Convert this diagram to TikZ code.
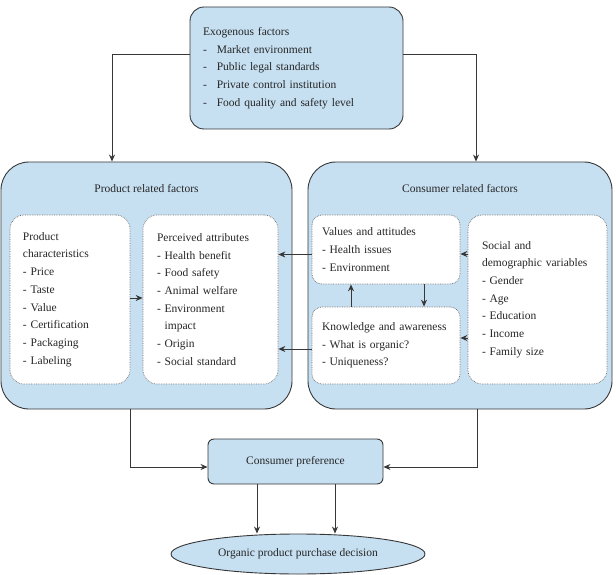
\documentclass[tikz,border=0pt]{standalone}
\usepackage{fontspec}
\setmainfont{Liberation Serif}
\usetikzlibrary{shapes,arrows.meta,positioning,calc}
\definecolor{boxblue}{RGB}{198,224,242}
\definecolor{linegray}{RGB}{55,55,55}

\begin{document}
\begin{tikzpicture}[x=1pt, y=-1pt,
    font=\fontsize{11.5}{17.7}\selectfont,
    outer/.style={rectangle, draw=linegray, fill=boxblue, line width=0.9pt, rounded corners=28pt, inner sep=0pt},
    block/.style={rectangle, draw=linegray, fill=boxblue, line width=0.9pt, rounded corners=14pt, align=left, text=black!85},
    inbox/.style={rectangle, draw=gray!85!black, densely dotted, line width=0.7pt, fill=white, rounded corners=14pt, align=left, text=black!85},
    arrow/.style={-{Stealth[length=7pt,width=6pt]}, draw=linegray, line width=0.9pt},
    title/.style={text=black!85}]

    \useasboundingbox (0,0) rectangle (616,575);

    % Exogenous factors
    \node[block, text width=187pt, inner xsep=13pt, minimum height=122pt] (exo) at (296.5,68)
        {Exogenous factors\\-\hspace{10pt}Market environment\\-\hspace{10pt}Public legal standards\\-\hspace{10pt}Private control institution\\-\hspace{10pt}Food quality and safety level};

    % Outer groups
    \node[outer, minimum width=291pt, minimum height=247pt] (prod) at (146.5,285.5) {};
    \node[outer, minimum width=304pt, minimum height=247pt] (cons) at (460,285.5) {};
    \node[title] (prodtitle) at (146.5,189) {Product related factors};
    \node[title] (constitle) at (460,189) {Consumer related factors};

    % Product related factors
    \node[inbox, text width=94pt, inner xsep=13pt, minimum height=169pt] (charac) at (70,299.5)
        {Product\\characteristics\\- Price\\- Taste\\- Value\\- Certification\\- Packaging\\- Labeling};
    \node[inbox, text width=107pt, inner xsep=14pt, minimum height=169pt] (perc) at (210.5,299.5)
        {Perceived attributes\\- Health benefit\\- Food safety\\- Animal welfare\\- Environment\\\phantom{-}\ impact\\- Origin\\- Social standard};

    % Consumer related factors
    \node[inbox, text width=128pt, inner xsep=10pt, minimum height=69pt, rounded corners=10pt] (vals) at (386,249.5)
        {Values and attitudes\\- Health issues\\- Environment};
    \node[inbox, text width=128pt, inner xsep=10pt, minimum height=77pt, rounded corners=10pt] (know) at (386,345.5)
        {Knowledge and awareness\\- What is organic?\\- Uniqueness?};
    \node[inbox, text width=111pt, inner xsep=14pt, minimum height=169pt] (soc) at (537.5,299.5)
        {Social and\\demographic variables\\- Gender\\- Age\\- Education\\- Income\\- Family size\\[6pt]};

    % Outcome
    \node[block, minimum width=175pt, minimum height=45pt, rounded corners=6pt] (pref) at (295.5,461.5) {Consumer preference};
    \node[ellipse, draw=linegray, fill=boxblue, line width=0.9pt, text=black!85, minimum width=254pt, minimum height=40pt, inner sep=0pt] (dec) at (298,554) {Organic product purchase decision};

    % Arrows
    \draw[arrow] ([yshift=14pt]exo.west) -| ([xshift=-34.5pt]prod.north);
    \draw[arrow] ([yshift=14pt]exo.east) -| ([xshift=16pt]cons.north);
    \draw[arrow] ([yshift=1.5pt]charac.east) -- ([yshift=1.5pt]perc.west);
    \draw[arrow] ([yshift=-5pt]vals.west) -- ([yshift=-5pt]vals.west -| perc.east);
    \draw[arrow] ([yshift=-3.5pt]know.west) -- ([yshift=-3.5pt]know.west -| perc.east);
    \draw[arrow] ([yshift=-4.5pt]vals.east -| soc.west) -- ([yshift=-4.5pt]vals.east);
    \draw[arrow] ([yshift=7.5pt]know.east -| soc.west) -- ([yshift=7.5pt]know.east);
    \draw[arrow] ([xshift=-35pt]know.north) -- ([xshift=-35pt]vals.south);
    \draw[arrow] ([xshift=38pt]vals.south) -- ([xshift=38pt]know.north);
    \draw[arrow] ([xshift=-16.5pt]prod.south) |- ([yshift=-5.5pt]pref.west);
    \draw[arrow] ([xshift=17pt]cons.south) |- ([yshift=-5.5pt]pref.east);
    \draw[arrow] ([xshift=-38.5pt]pref.south) -- ([xshift=-38.5pt]pref.south |- dec.north);
    \draw[arrow] ([xshift=39.5pt]pref.south) -- ([xshift=39.5pt]pref.south |- dec.north);

\end{tikzpicture}
\end{document}
